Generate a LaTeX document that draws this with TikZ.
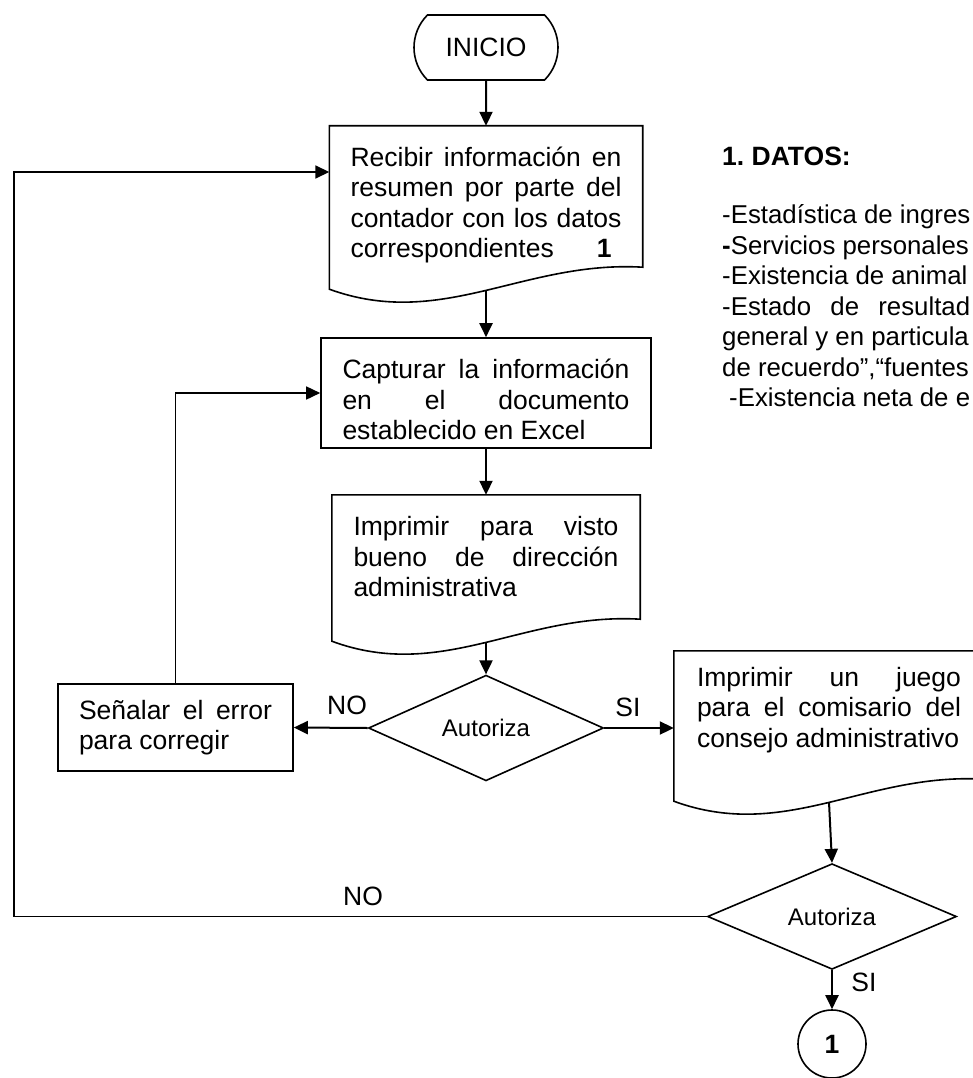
\documentclass[tikz,border=0pt]{standalone}
\usepackage{fontspec}
\setmainfont{Liberation Sans}
\usetikzlibrary{calc}
\usetikzlibrary{arrows.meta}
\usetikzlibrary{shapes.geometric,shapes.misc}
\frenchspacing

% linea justificada dentro de un nodo
\newlength{\anchojl}
\newcommand{\jl}[1]{{\spaceskip=0pt\xspaceskip=0pt\makebox[\anchojl][s]{#1}}}
% contorno de documento (borde ondulado abajo)
\newcommand{\docwave}[1]{%
  \draw[linea] (#1.north west) -- (#1.north east) -- (#1.south east)
    .. controls ($(#1.south west)!0.62!(#1.south east)+(0,-7)$)
    and ($(#1.south west)!0.36!(#1.south east)+(0,63)$) .. ($(#1.south west)+(0,22)$) -- cycle;}

\tikzset{
  txt/.style={font=\fontsize{26.5}{30.5}\selectfont},
  linea/.style={line width=1.6pt},
  ancho/.code={\pgfkeysalso{text width=#1}\global\anchojl=#1\relax},
  inicio/.style={txt, draw, linea, rounded rectangle, rounded rectangle arc length=90,
    minimum width=144pt, minimum height=65pt, inner sep=0pt},
  hoja/.style={txt, rectangle, inner ysep=0pt, align=justify},
  caja/.style={hoja, draw, linea},
  decision/.style={diamond, draw, linea, inner sep=0pt, font=\fontsize{24}{28}\selectfont},
  conector/.style={txt, circle, draw, linea, minimum size=68pt, inner sep=0pt},
  flecha/.style={line width=2pt, -{Triangle[length=14pt,width=13pt]}},
  etiqueta/.style={txt, inner sep=0pt},
}

\begin{document}
\begin{tikzpicture}[x=1pt,y=-1pt]
  \useasboundingbox (0,0) rectangle (973,1078);
  \clip (0,0) rectangle (973,1078);

  % Inicio y columna principal
  \node[inicio] (ini) at (486,47.5) {INICIO};
  \node[hoja, ancho=271pt, inner xsep=21pt, minimum height=141pt] (rec) at (486,196.5)
    {\jl{\rule{0pt}{37pt}Recibir información en}\\ \jl{resumen por parte del}\\ \jl{contador con los datos}\\
     correspondientes\hspace{43pt}\textbf{1}};
  \docwave{rec}
  \node[caja, ancho=287pt, inner xsep=21.5pt, minimum height=110pt] (cap) at (486,393)
    {\jl{\rule{0pt}{33pt}Capturar la información}\\ \jl{en el documento}\\ establecido en Excel};
  \node[hoja, ancho=265pt, inner xsep=21.5pt, minimum height=124pt] (imp) at (486,557)
    {\jl{Imprimir para visto}\\ \jl{bueno de dirección}\\ administrativa};
  \docwave{imp}
  \node[decision, minimum width=235pt, minimum height=78pt] (aut1) at (486,728) {Autoriza};

  % Rama del error
  \node[caja, ancho=193pt, inner xsep=21pt, minimum height=87pt] (err) at (175.5,727.5)
    {\jl{Señalar el error}\\ para corregir};

  % Rama del comisario
  \node[hoja, ancho=264pt, inner xsep=23pt, minimum height=128pt] (jue) at (829,715)
    {\jl{Imprimir un juego}\\ \jl{para el comisario del}\\ consejo administrativo\rule[-15.5pt]{0pt}{1pt}};
  \docwave{jue}
  \node[decision, minimum width=249pt, minimum height=89pt] (aut2) at (832,916.5) {Autoriza};
  \node[conector] (fin) at (832,1044) {\textbf{1}};

  % Lista de datos
  \node[etiqueta, anchor=west, font=\fontsize{26.5}{30.5}\selectfont\bfseries] (datos) at (722,156) {1. DATOS:};
  \node[etiqueta, anchor=west, align=left, font=\fontsize{25.8}{30.5}\selectfont] (lista) at (722,306)
    {-Estadística de ingres\\ \textbf{-}Servicios personales\\ -Existencia de animal\\
     \makebox[248pt][s]{-Estado de resultad}\\ general y en particula\\
     de recuerdo”,“fuentes\\ \hspace*{7pt}-Existencia neta de e};

  % Conexiones
  \coordinate (lft) at (14,916.5);
  \coordinate (ltop) at (14,172);
  \draw[flecha] (ini) -- (rec);
  \draw[flecha] ($(rec.south)+(0,23)$) -- (cap.north);
  \draw[flecha] (cap) -- (imp);
  \draw[flecha] ($(imp.south)+(0,23)$) -- (aut1.north);
  \draw[flecha] (aut1.west) -- (err.east);
  \draw[flecha] (aut1.east) -- (aut1.east -| jue.west);
  \draw[linea, -{Triangle[length=14pt,width=13pt]}] (err.north) |- (cap.west);
  \draw[flecha] ($(jue.south)+(0,23)$) -- (aut2.north);
  \draw[linea, -{Triangle[length=14pt,width=13pt]}] (aut2.west) -- (lft) -- (ltop) -- (ltop -| rec.west);
  \draw[flecha] (aut2.south) -- (fin.north);

  % Etiquetas de las salidas
  \node[etiqueta] (no1) at (347,705) {NO};
  \node[etiqueta] (si1) at (628,707) {SI};
  \node[etiqueta] (no2) at (363,896) {NO};
  \node[etiqueta] (si2) at (864,982) {SI};
\end{tikzpicture}
\end{document}
